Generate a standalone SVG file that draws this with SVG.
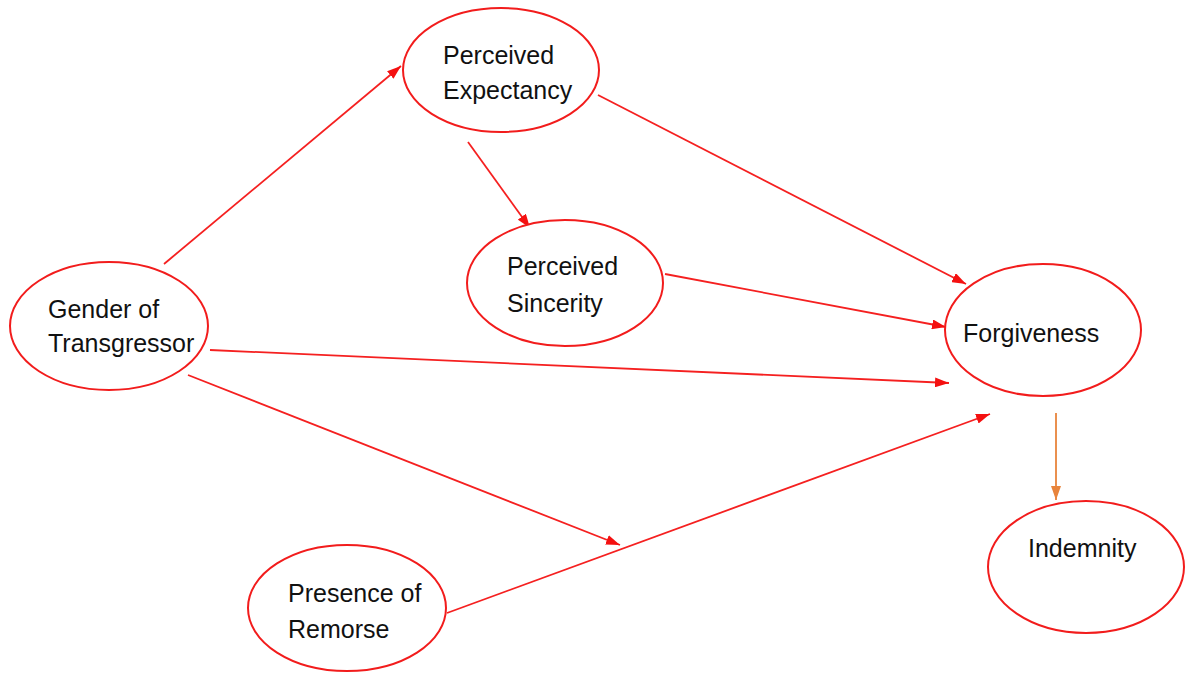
<svg xmlns="http://www.w3.org/2000/svg" width="1192" height="677" viewBox="0 0 1192 677">
<defs>
<style>
.node ellipse{fill:#fff;stroke:#f21c1c;stroke-width:2}
.node text{font-family:"Liberation Sans",Arial,sans-serif;font-size:25px;fill:#111}
.edge{stroke:#f52020;stroke-width:1.8;fill:none}
.edge.o{stroke:#e8843c}
</style>
<marker id="ar" viewBox="0 0 14 10" refX="14" refY="5" markerWidth="14" markerHeight="10" markerUnits="userSpaceOnUse" orient="auto"><path d="M0,0 L14,5 L0,10 Z" fill="#f41010"/></marker>
<marker id="ao" viewBox="0 0 14 10" refX="14" refY="5" markerWidth="14" markerHeight="10" markerUnits="userSpaceOnUse" orient="auto"><path d="M0,0 L14,5 L0,10 Z" fill="#e8843c"/></marker>
</defs>
<rect width="1192" height="677" fill="#fff"/>
<g id="connectors">
<line class="edge" x1="164" y1="264" x2="401" y2="66" marker-end="url(#ar)"/>
<line class="edge" x1="468" y1="142" x2="530" y2="228" marker-end="url(#ar)"/>
<line class="edge" x1="598" y1="95" x2="966" y2="284" marker-end="url(#ar)"/>
<line class="edge" x1="665" y1="274" x2="946" y2="327" marker-end="url(#ar)"/>
<line class="edge" x1="210" y1="350" x2="949" y2="383" marker-end="url(#ar)"/>
<line class="edge" x1="188" y1="375" x2="620" y2="545" marker-end="url(#ar)"/>
<line class="edge" x1="447" y1="613" x2="990" y2="414" marker-end="url(#ar)"/>
<line class="edge o" x1="1056" y1="413" x2="1056" y2="500" marker-end="url(#ao)"/>
</g>
<g id="gender" class="node"><ellipse cx="109" cy="326" rx="99" ry="64"/><text x="48" y="318">Gender of</text><text x="48" y="352">Transgressor</text></g>
<g id="expectancy" class="node"><ellipse cx="501" cy="70" rx="98" ry="62"/><text x="443" y="64">Perceived</text><text x="443" y="99">Expectancy</text></g>
<g id="sincerity" class="node"><ellipse cx="565" cy="283" rx="98" ry="63"/><text x="507" y="275">Perceived</text><text x="507" y="312">Sincerity</text></g>
<g id="forgiveness" class="node"><ellipse cx="1043" cy="330" rx="98" ry="66"/><text x="963" y="342">Forgiveness</text></g>
<g id="indemnity" class="node"><ellipse cx="1086" cy="567" rx="98" ry="66"/><text x="1028" y="557">Indemnity</text></g>
<g id="remorse" class="node"><ellipse cx="347" cy="608" rx="99" ry="63"/><text x="288" y="602">Presence of</text><text x="288" y="638">Remorse</text></g>
</svg>
